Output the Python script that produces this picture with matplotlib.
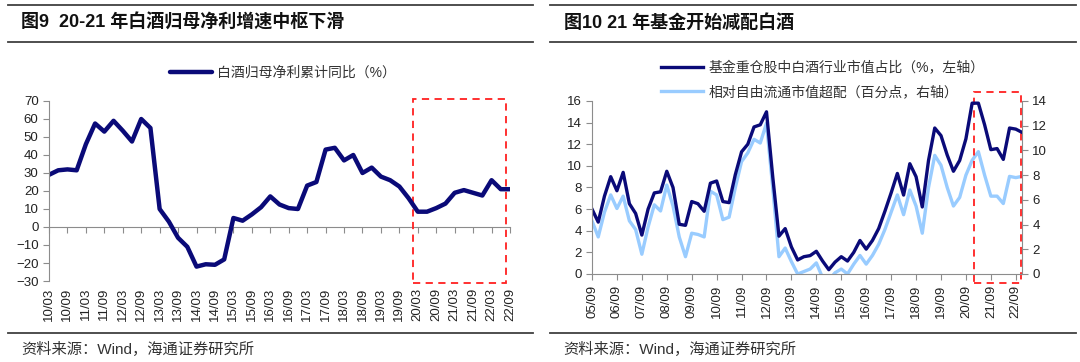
import matplotlib.pyplot as plt
from matplotlib.lines import Line2D
from matplotlib.patches import Rectangle

plt.rcParams['font.family'] = ['Liberation Sans', 'Noto Sans CJK SC']

# 图9: 白酒归母净利累计同比, quarterly 10/03 .. 22/09
profit_yoy = [29, 31.5, 32, 31.5, 46, 57.5, 53, 59, 53.5, 47.5, 60, 55,
              10, 3, -6, -11, -22, -20.7, -21, -18, 5, 3.5, 7, 11,
              17, 12.5, 10.5, 10, 23, 25, 43, 44, 37, 40, 30, 33,
              28, 26, 22.5, 16, 8.5, 8.5, 10.5, 13, 19, 20.5, 19, 17.5,
              26, 21, 21]
left_ticks = ['10/03', '10/09', '11/03', '11/09', '12/03', '12/09', '13/03',
              '13/09', '14/03', '14/09', '15/03', '15/09', '16/03', '16/09',
              '17/03', '17/09', '18/03', '18/09', '19/03', '19/09', '20/03',
              '20/09', '21/03', '21/09', '22/03', '22/09']
left_box_x = [39.5, 49.6]
left_box_y = [-31, 71]

# 图10: 基金重仓白酒, quarterly 05/09 .. 22/12
fund_weight = [6.0, 4.8, 7.2, 9.0, 7.7, 9.4, 6.5, 5.6, 3.6, 6.0, 7.5, 7.6,
               9.5, 8.0, 4.6, 4.5, 6.7, 6.5, 5.8, 8.4, 8.6, 6.7, 6.6, 9.2,
               11.3, 12.0, 13.6, 13.8, 15.0, 9.0, 3.5, 4.2, 2.5, 1.3, 1.6, 1.7,
               2.1, 1.2, 0.4, 1.1, 1.6, 1.2, 2.0, 3.1, 2.3, 3.1, 4.2, 5.8,
               7.5, 9.3, 7.3, 10.2, 9.0, 6.2, 10.5, 13.5, 12.8, 11.0, 9.5, 10.5,
               12.5, 15.8, 15.8, 13.8, 11.5, 11.6, 10.6, 13.5, 13.4, 13.1]
overweight = [4.3, 3.0, 5.0, 6.4, 5.3, 6.3, 4.3, 3.6, 1.6, 3.8, 5.6, 5.1,
              7.2, 5.5, 3.0, 1.4, 3.3, 3.2, 3.0, 6.7, 6.4, 4.4, 4.6, 7.0,
              9.1, 9.8, 10.9, 10.6, 12.2, 7.0, 1.4, 2.1, 1.0, 0.0, 0.2, 0.4,
              0.9, -0.3, -0.5, 0.1, 0.4, 0.0, 0.8, 1.5, 0.8, 1.5, 2.4, 3.6,
              5.0, 6.4, 4.8, 6.8, 5.5, 3.3, 7.0, 9.6, 8.8, 7.0, 5.5, 6.2,
              8.0, 9.2, 9.9, 8.0, 6.3, 6.3, 5.7, 7.9, 7.8, 7.9]
right_ticks = ['05/09', '06/09', '07/09', '08/09', '09/09', '10/09', '11/09',
               '12/09', '13/09', '14/09', '15/09', '16/09', '17/09', '18/09',
               '19/09', '20/09', '21/09', '22/09']
right_box_x = [61.3, 68.9]
right_box_y = [-0.8, 16.8]

navy = '#0a0a78'
light = '#99ccff'
grey = '#8c8c8c'
txt = '#222222'

fig = plt.figure(figsize=(10.8, 3.62), dpi=100)


def rule(x0, x1, y):
    fig.add_artist(Line2D([x0 / 1080, x1 / 1080], [1 - y / 362, 1 - y / 362],
                          color='#404040', lw=1.3, transform=fig.transFigure))


def style(ax):
    for s in ['top', 'right']:
        ax.spines[s].set_visible(False)
    for s in ['left', 'bottom']:
        ax.spines[s].set_color(grey)
    ax.tick_params(axis='both', colors=grey, labelcolor=txt, labelsize=9.5,
                   length=4, width=0.8)


# ---------- left panel ----------
rule(8, 533, 5)
rule(8, 533, 42)
rule(8, 533, 333)
fig.text(21 / 1080, 1 - 23 / 362, '图9  20-21 年白酒归母净利增速中枢下滑',
         fontsize=13, fontweight='bold', va='center', color='#111111')
fig.text(21 / 1080, 1 - 349 / 362, '资料来源：Wind，海通证券研究所',
         fontsize=11, va='center', color='#333333')

ax1 = fig.add_axes([49 / 1080, 1 - 281 / 362, 461 / 1080, 180 / 362])
style(ax1)
x1 = range(len(profit_yoy))
l1, = ax1.plot(x1, profit_yoy, color=navy, lw=3.2, solid_joinstyle='round',
               solid_capstyle='round', label='白酒归母净利累计同比（%）')
ax1.set_xlim(0, len(profit_yoy) - 1)
ax1.set_ylim(-30, 70)
ax1.set_yticks(range(-30, 71, 10))
ax1.spines['bottom'].set_visible(False)
ax1.set_xticks(range(0, len(profit_yoy), 2))
ax1.set_xticklabels(left_ticks, rotation=90)
ax1.tick_params(axis='x', length=0, pad=5)
zero = ax1.secondary_xaxis(30 / 100)
zero.spines['bottom'].set_color(grey)
zero.set_xticks(range(0, len(profit_yoy), 2))
zero.tick_params(axis='x', colors=grey, length=4, width=0.8, labelbottom=False)
ax1.add_patch(Rectangle((left_box_x[0], left_box_y[0]),
                        left_box_x[1] - left_box_x[0],
                        left_box_y[1] - left_box_y[0],
                        fill=False, ec='#ff2020', lw=1.3, ls=(0, (4, 3)),
                        clip_on=False))
fig.legend(handles=[l1], loc='center left',
           bbox_to_anchor=(170 / 1080, 1 - 73 / 362), frameon=False,
           fontsize=10, handlelength=3.0, handletextpad=0.4,
           borderpad=0, borderaxespad=0, labelcolor='#333333')

# ---------- right panel ----------
rule(550, 1076, 5)
rule(550, 1076, 42)
rule(550, 1076, 333)
fig.text(564 / 1080, 1 - 23 / 362, '图10 21 年基金开始减配白酒',
         fontsize=13, fontweight='bold', va='center', color='#111111')
fig.text(563 / 1080, 1 - 349 / 362, '资料来源：Wind，海通证券研究所',
         fontsize=11, va='center', color='#333333')

ax2 = fig.add_axes([592 / 1080, 1 - 274 / 362, 430 / 1080, 173 / 362])
ax3 = ax2.twinx()
style(ax2)
style(ax3)
ax3.spines['left'].set_visible(False)
ax3.spines['bottom'].set_visible(False)
ax3.spines['right'].set_visible(True)
ax3.spines['right'].set_color(grey)
x2 = range(len(fund_weight))
l2, = ax2.plot(x2, fund_weight, color=navy, lw=2.4, solid_joinstyle='round',
               label='基金重仓股中白酒行业市值占比（%，左轴）')
l3, = ax3.plot(x2, overweight, color=light, lw=2.4, solid_joinstyle='round',
               label='相对自由流通市值超配（百分点，右轴）')
ax2.set_zorder(ax3.get_zorder() + 1)
ax2.patch.set_visible(False)
ax2.set_xlim(0, len(fund_weight) - 1)
ax2.set_ylim(0, 16)
ax2.set_yticks(range(0, 17, 2))
ax3.set_ylim(0, 14)
ax3.set_yticks(range(0, 15, 2))
ax2.set_xticks(range(0, len(fund_weight), 4))
ax2.set_xticklabels(right_ticks, rotation=90)
ax2.add_patch(Rectangle((right_box_x[0], right_box_y[0]),
                        right_box_x[1] - right_box_x[0],
                        right_box_y[1] - right_box_y[0],
                        fill=False, ec='#ff2020', lw=1.3, ls=(0, (4, 3)),
                        clip_on=False))
fig.legend(handles=[l2, l3], loc='center left',
           bbox_to_anchor=(661 / 1080, 1 - 80 / 362), frameon=False,
           fontsize=10, handlelength=3.0, handletextpad=0.4,
           labelspacing=0.7, borderpad=0, borderaxespad=0,
           labelcolor='#333333')

fig.savefig('out.png', dpi=100)
